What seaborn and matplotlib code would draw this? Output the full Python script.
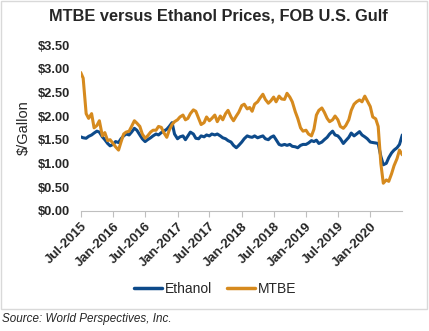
import matplotlib
matplotlib.use("Agg")
import matplotlib.pyplot as plt
from matplotlib.patches import Rectangle
from matplotlib.lines import Line2D
import numpy as np
import pandas as pd
import seaborn as sns

# Semi-monthly observation dates, Jul-2015 .. Jul-2020
dates = pd.date_range("2015-07-01", "2020-07-01", freq="SMS")

mtbe = [2.92, 2.80, 2.05, 1.95, 2.05, 1.75, 1.80, 1.90, 1.58, 1.65, 1.48, 1.50,
        1.42, 1.35, 1.28, 1.45, 1.62, 1.66, 1.68, 1.78, 1.90, 1.85, 1.78, 1.62,
        1.53, 1.58, 1.66, 1.70, 1.70, 1.78, 1.76, 1.65, 1.55, 1.70, 1.82, 1.88,
        1.92, 1.98, 2.02, 1.92, 1.95, 2.05, 2.13, 2.10, 1.95, 1.82, 1.86, 1.98,
        1.90, 1.95, 2.02, 1.88, 2.00, 1.92, 2.05, 2.12, 1.98, 1.90, 2.00, 2.08,
        2.22, 2.25, 2.15, 2.18, 2.10, 2.25, 2.30, 2.38, 2.46, 2.35, 2.27, 2.32,
        2.40, 2.30, 2.42, 2.36, 2.35, 2.48, 2.40, 2.30, 2.09, 1.95, 1.75, 1.68,
        1.70, 1.62, 1.58, 1.72, 2.02, 2.12, 2.17, 2.08, 1.95, 1.88, 1.92, 2.00,
        1.92, 1.78, 1.74, 1.80, 1.92, 2.12, 2.25, 2.30, 2.34, 2.30, 2.42, 2.32,
        2.20, 1.98, 1.94, 1.78, 1.00, 0.58, 0.65, 0.62, 0.78, 0.95, 1.10, 1.28,
        1.18]

ethanol = [1.56, 1.54, 1.53, 1.57, 1.60, 1.64, 1.68, 1.66, 1.56, 1.50, 1.42, 1.37,
           1.40, 1.46, 1.44, 1.52, 1.58, 1.62, 1.60, 1.66, 1.74, 1.70, 1.60, 1.52,
           1.46, 1.50, 1.54, 1.58, 1.62, 1.60, 1.65, 1.68, 1.72, 1.78, 1.86, 1.62,
           1.52, 1.56, 1.58, 1.50, 1.58, 1.66, 1.62, 1.53, 1.52, 1.58, 1.56, 1.60,
           1.58, 1.62, 1.60, 1.62, 1.58, 1.54, 1.52, 1.48, 1.45, 1.38, 1.33, 1.38,
           1.45, 1.52, 1.58, 1.56, 1.55, 1.58, 1.54, 1.56, 1.58, 1.52, 1.50, 1.55,
           1.58, 1.50, 1.40, 1.38, 1.40, 1.38, 1.40, 1.36, 1.35, 1.33, 1.38, 1.40,
           1.40, 1.43, 1.48, 1.46, 1.49, 1.42, 1.45, 1.50, 1.55, 1.62, 1.68, 1.60,
           1.58, 1.52, 1.42, 1.48, 1.55, 1.64, 1.58, 1.62, 1.67, 1.60, 1.56, 1.52,
           1.45, 1.44, 1.43, 1.42, 1.15, 0.97, 1.00, 1.12, 1.22, 1.28, 1.33, 1.40,
           1.60]

series_names = ["Ethanol", "MTBE"]
colors = {"Ethanol": "#0D4A8A", "MTBE": "#D68A1E"}
title = "MTBE versus Ethanol Prices, FOB U.S. Gulf"
y_label = "$/Gallon"
y_ticks = [0, 0.5, 1.0, 1.5, 2.0, 2.5, 3.0, 3.5]
x_tick_dates = pd.date_range("2015-07-01", "2020-01-01", freq="6MS")
source = "Source: World Perspectives, Inc."

df = pd.concat([
    pd.DataFrame({"date": dates, "price": ethanol, "series": "Ethanol"}),
    pd.DataFrame({"date": dates, "price": mtbe, "series": "MTBE"}),
])

sns.set_theme(style="white")
plt.rcParams["font.family"] = ["Liberation Sans", "DejaVu Sans"]

W, H = 429, 331
fig = plt.figure(figsize=(W / 100, H / 100), dpi=100)
ax = fig.add_axes([80.7 / W, 1 - 210.7 / H, (402.3 - 80.7) / W, (210.7 - 45) / H])

sns.lineplot(data=df, x="date", y="price", hue="series", hue_order=series_names,
             palette=colors, linewidth=2.2, ax=ax, legend=False)

ax.set_xlim(pd.Timestamp("2015-07-01"), pd.Timestamp("2020-07-01"))
ax.set_ylim(0, 3.5)
ax.set_yticks(y_ticks)
ax.set_yticklabels([f"${v:.2f}" for v in y_ticks], fontsize=9.3, fontweight="bold")
ax.set_xticks(x_tick_dates)
ax.set_xticklabels([d.strftime("%b-%Y") for d in x_tick_dates], rotation=45,
                   ha="right", rotation_mode="anchor", fontsize=9.5, fontweight="bold")
ax.tick_params(axis="y", length=0, pad=8)
ax.tick_params(axis="x", length=4, width=0.8, color="#BFBFBF", direction="out", pad=3)
ax.xaxis.set_ticks_position("bottom")
for s in ["left", "right", "top"]:
    ax.spines[s].set_visible(False)
ax.spines["bottom"].set_color("#BFBFBF")
ax.spines["bottom"].set_linewidth(0.8)
ax.set_xlabel("")
ax.set_ylabel(y_label, fontsize=10.5)
ax.yaxis.set_label_coords(-(80.7 - 31) / (402.3 - 80.7), 0.5)
ax.grid(False)

fig.text(218 / W, 1 - 16 / H, title, ha="center", va="center", fontsize=11.8,
         fontweight="bold")

handles = [Line2D([], [], color=colors[n], linewidth=2.5) for n in series_names]
fig.legend(handles, series_names, loc="center", bbox_to_anchor=(215 / W, 1 - 289 / H),
           ncol=2, frameon=False, fontsize=10, handlelength=2.0, handletextpad=0.2,
           columnspacing=1.1)

fig.patches.append(Rectangle((1 / W, 1 - 309 / H), 426 / W, 308 / H,
                             transform=fig.transFigure, fill=False,
                             edgecolor="#D9D9D9", linewidth=1))
fig.text(2 / W, 1 - 319 / H, source, ha="left", va="center", fontsize=8.4,
         style="italic")

fig.savefig("out.png", dpi=100)
